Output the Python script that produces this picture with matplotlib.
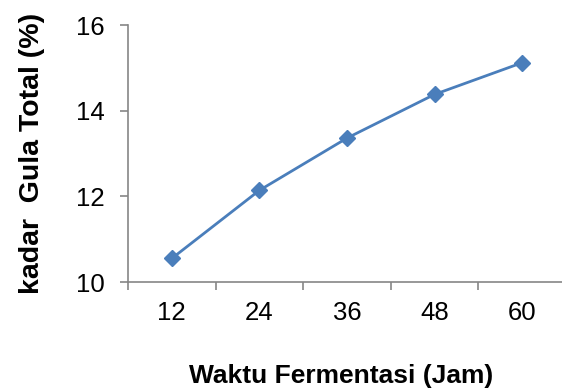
import numpy as np
import matplotlib
matplotlib.use("Agg")
import matplotlib.pyplot as plt

plt.rcParams['font.family'] = ['Liberation Sans', 'DejaVu Sans']

# fermentation time (hours) and total sugar content (%)
waktu = ["12", "24", "36", "48", "60"]
kadar_gula = [10.55, 12.14, 13.36, 14.38, 15.12]

y_ticks = [10, 12, 14, 16]

fig = plt.figure(figsize=(5.62, 3.9), dpi=100)
ax = fig.add_axes([128 / 562, 108 / 390, 438 / 562, 257 / 390])

x = np.arange(1, len(waktu) + 1)
ax.plot(x, kadar_gula, color='#4A7EBB', linewidth=2.0, marker='D',
        markersize=8, markerfacecolor='#4A7EBB', markeredgecolor='#4A7EBB',
        clip_on=False)

ax.set_xlim(0.5, len(waktu) + 0.5)
ax.set_ylim(10, 16)

# category ticks sit between the categories, labels at the centres
ax.set_xticks(np.arange(0.5, len(waktu) + 1, 1))
ax.set_xticklabels([])
ax.set_xticks(x, minor=True)
ax.set_xticklabels(waktu, minor=True)
ax.tick_params(axis='x', which='minor', length=0, pad=14, labelsize=18.5)
ax.tick_params(axis='x', which='major', length=6, width=1.2, color='#868686')

ax.set_yticks(y_ticks)
ax.set_yticklabels([str(v) for v in y_ticks])
ax.tick_params(axis='y', length=6, width=1.2, color='#868686', pad=11, labelsize=18.5)

for side in ['top', 'right']:
    ax.spines[side].set_visible(False)
for side in ['left', 'bottom']:
    ax.spines[side].set_color('#868686')
    ax.spines[side].set_linewidth(1.2)

fig.text(341 / 562, 1 - 376 / 390, "Waktu Fermentasi (Jam)", ha='center', va='center',
         fontsize=19, fontweight='bold')
fig.text(32 / 562, 1 - 153 / 390, "kadar  Gula Total (%)", ha='center', va='center',
         rotation=90, fontsize=20.5, fontweight='bold')

fig.savefig("out.png", dpi=100)
